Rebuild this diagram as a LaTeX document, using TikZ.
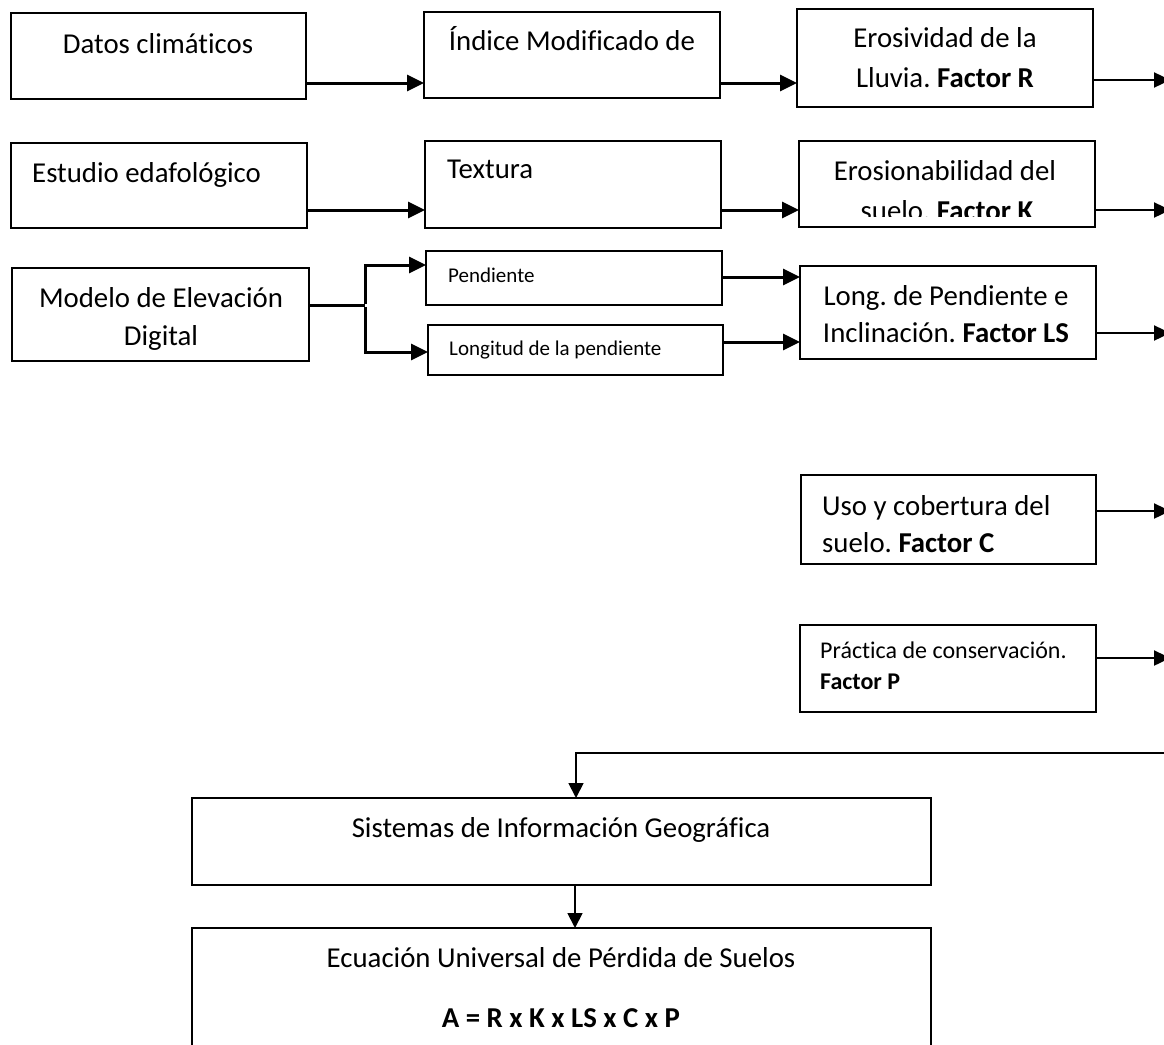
\documentclass[tikz,border=0pt]{standalone}
\usepackage{fontspec}
\setmainfont{Carlito}[Ligatures={NoCommon}]
\usetikzlibrary{arrows.meta}
\frenchspacing
\newcommand\mybox[5]{%
  \pgfmathsetmacro\myBW{#4-#2}\pgfmathsetmacro\myBH{#5-#3}%
  \pgfmathsetmacro\myBX{(#2+#4)/2}\pgfmathsetmacro\myBY{(#3+#5)/2}%
  \node[box, minimum width=\myBW pt, minimum height=\myBH pt] (#1) at (\myBX,\myBY) {};}
\tikzset{
  box/.style={draw, line width=2.2pt, inner sep=0pt, outer sep=0pt},
  txt/.style={inner sep=0pt, font=\frenchspacing\fontsize{28.8}{38}\selectfont},
  txtm/.style={inner sep=0pt, font=\frenchspacing\fontsize{24}{31}\selectfont},
  txts/.style={inner sep=0pt, font=\frenchspacing\fontsize{21}{27}\selectfont},
  arr/.style={line width=3pt, -{Triangle[length=17pt,width=16pt]}},
  arro/.style={line width=2.4pt, -{Triangle[length=16pt,width=15pt]}},
  arrthin/.style={line width=1.8pt, -{Triangle[length=15pt,width=15pt]}},
  plain/.style={line width=3pt}
}
\begin{document}
\begin{tikzpicture}[x=1pt,y=-1pt]
\clip (0,0) rectangle (1164,1044);
\fill[white] (0,0) rectangle (1164,1044);
% boxes
\mybox{datos}{11}{13}{306}{99}
\mybox{estudio}{11}{143}{307}{228}
\mybox{med}{12}{268}{309}{361}
\mybox{indice}{424}{12}{720}{98}
\mybox{textura}{425}{141}{721}{228}
\mybox{pend}{426}{251}{722}{305}
\mybox{longi}{428}{325}{723}{375}
\mybox{erosiv}{797}{9}{1093}{107}
\mybox{erosion}{799}{141}{1095}{227}
\mybox{ls}{800}{266}{1096}{359}
\mybox{uso}{801}{475}{1096}{564}
\mybox{prac}{800}{625}{1096}{712}
\mybox{sig}{192}{798}{931}{885}
\mybox{ecu}{192}{928}{931}{1060}
% texts
\node[txt, anchor=base] (tdatos) at (158,53) {Datos climáticos};
\node[txt, anchor=base] (tindice) at (572,50) {Índice Modificado de};
\node[txt, anchor=base] (terosiv1) at (945,47) {Erosividad de la};
\node[txt, anchor=base] (terosiv2) at (945,87) {Lluvia. \textbf{Factor R}};
\node[txt, anchor=base west] (testudio) at (32,182) {Estudio edafológico};
\node[txt, anchor=base west] (ttextura) at (447,178) {Textura};
\node[txt, anchor=base] (terosion1) at (945,180) {Erosionabilidad del};
\begin{scope}
\clip (799,141) rectangle (1095,216);
\node[txt, anchor=base] (terosion2) at (947,220) {suelo. \textbf{Factor K}};
\end{scope}
\node[txt, anchor=base] (tmed1) at (161,307) {Modelo de Elevación};
\node[txt, anchor=base] (tmed2) at (161,345) {Digital};
\node[txts, anchor=base west] (tpend) at (448,282) {Pendiente};
\node[txts, anchor=base west] (tlongi) at (449,355) {Longitud de la pendiente};
\node[txt, anchor=base] (tls1) at (946,305) {Long. de Pendiente e};
\node[txt, anchor=base] (tls2) at (946,342) {Inclinación. \textbf{Factor LS}};
\node[txt, anchor=base west] (tuso1) at (822,515) {Uso y cobertura del};
\node[txt, anchor=base west] (tuso2) at (822,552) {suelo. \textbf{Factor C}};
\node[txtm, anchor=base west] (tprac1) at (820,658) {Práctica de conservación.};
\node[txtm, anchor=base west] (tprac2) at (820,689) {\textbf{Factor P}};
\node[txt, anchor=base] (tsig) at (561,837) {Sistemas de Información Geográfica};
\node[txt, anchor=base] (tecu1) at (561,967) {Ecuación Universal de Pérdida de Suelos};
\node[txt, anchor=base] (tecu2) at (561,1027) {\textbf{A = R x K x LS x C x P}};
% y levels and free ends
\coordinate (y1) at (0,83);
\coordinate (y2) at (0,210);
\coordinate (e1) at (1170,80);
\coordinate (e2) at (1170,210);
\coordinate (e3) at (1170,333);
\coordinate (e4) at (1170,511);
\coordinate (e5) at (1170,658);
\coordinate (br) at (365,305);
\coordinate (yP) at (0,265);
\coordinate (yL) at (0,352);
\coordinate (yP2) at (0,277);
\coordinate (yL2) at (0,342);
\coordinate (fb) at (1166,753);
\coordinate (fbx) at (576,753);
\coordinate (ax) at (575,0);
% connectors
\draw[arr] (datos.east |- y1) -- (indice.west |- y1);
\draw[arr] (indice.east |- y1) -- (erosiv.west |- y1);
\draw[arro] (erosiv.east |- e1) -- (e1);
\draw[arr] (estudio.east |- y2) -- (textura.west |- y2);
\draw[arr] (textura.east |- y2) -- (erosion.west |- y2);
\draw[arro] (erosion.east |- e2) -- (e2);
\draw[plain] (med.east |- br) -- (br);
\draw[arr] ([yshift=1.5pt]br) |- (pend.west |- yP);
\draw[arr] ([yshift=-1.5pt]br) |- (longi.west |- yL);
\draw[arr] (pend.east |- yP2) -- (ls.west |- yP2);
\draw[arr] (longi.east |- yL2) -- (ls.west |- yL2);
\draw[arro] (ls.east |- e3) -- (e3);
\draw[arro] (uso.east |- e4) -- (e4);
\draw[arro] (prac.east |- e5) -- (e5);
\draw[arrthin] (fb) -- (fbx) -- (sig.north -| fbx);
\draw[arrthin] (sig.south -| ax) -- (ecu.north -| ax);
\end{tikzpicture}
\end{document}
